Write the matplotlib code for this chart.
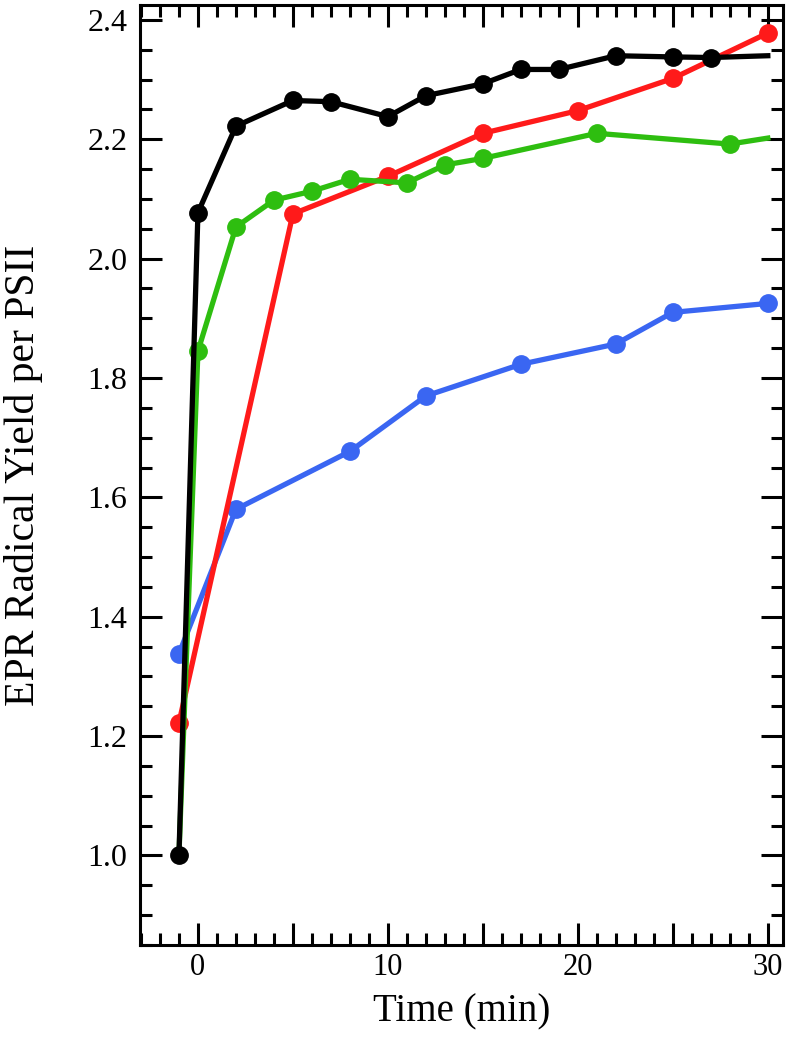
import matplotlib
matplotlib.use('Agg')
import matplotlib.pyplot as plt
from matplotlib.ticker import MultipleLocator

plt.rcParams['font.family'] = ['Liberation Serif', 'DejaVu Serif']

# ── data ────────────────────────────────────────────────────────
black_t = [-1, 0, 2, 5, 7, 10, 12, 15, 17, 19, 22, 25, 27, 30]
black_y = [1.000, 2.077, 2.222, 2.265, 2.263, 2.238, 2.273, 2.293,
           2.317, 2.317, 2.340, 2.338, 2.337, 2.340]

red_t = [-1, 5, 10, 15, 20, 25, 30]
red_y = [1.222, 2.075, 2.138, 2.210, 2.248, 2.302, 2.378]

green_t = [-1, 0, 2, 4, 6, 8, 11, 13, 15, 21, 28, 30]
green_y = [1.000, 1.845, 2.053, 2.098, 2.113, 2.133, 2.127, 2.157,
           2.168, 2.210, 2.192, 2.202]

blue_t = [-1, 2, 8, 12, 17, 22, 25, 30]
blue_y = [1.338, 1.580, 1.677, 1.770, 1.823, 1.857, 1.910, 1.925]

RED = '#FF1A1A'
GREEN = '#2EBE10'
BLUE = '#3A66F2'

fig = plt.figure(figsize=(7.9, 10.39), dpi=100)
ax = fig.add_axes([140 / 790, 1 - 945 / 1039, 643 / 790, 940 / 1039])

lw = 3.8
ms = 12.5
ax.plot(blue_t, blue_y, '-o', color=BLUE, lw=lw, ms=ms, zorder=2)
ax.plot(red_t, red_y, '-o', color=RED, lw=lw, ms=ms, zorder=3)
ax.plot(green_t, green_y, '-o', color=GREEN, lw=lw, ms=ms, zorder=4,
        markevery=list(range(1, len(green_t) - 1)))
ax.plot(black_t, black_y, '-o', color='black', lw=lw, ms=ms, zorder=5,
        markevery=list(range(len(black_t) - 1)))

ax.set_xlim(-3.05, 30.8)
ax.set_ylim(0.85, 2.425)

ax.xaxis.set_major_locator(MultipleLocator(5))
ax.xaxis.set_minor_locator(MultipleLocator(1))
ax.yaxis.set_major_locator(MultipleLocator(0.2))
ax.yaxis.set_minor_locator(MultipleLocator(0.05))
ax.set_xticks([0, 5, 10, 15, 20, 25, 30])
ax.set_xticklabels(['0', '', '10', '', '20', '', '30'])
ax.yaxis.set_major_formatter(plt.FuncFormatter(lambda v, p: f'{v:.1f}'))

ax.tick_params(which='both', direction='in', top=True, right=True, width=2.2)
ax.tick_params(which='major', length=16)
ax.tick_params(which='minor', length=8.5)
ax.tick_params(axis='y', labelsize=23, pad=9)
ax.tick_params(axis='x', labelsize=22, pad=6)
for s in ax.spines.values():
    s.set_linewidth(2.2)

ax.set_xlabel('Time (min)', fontsize=28, labelpad=8)
ax.set_ylabel('EPR Radical Yield per PSII', fontsize=30, labelpad=32)

fig.savefig('out.png', dpi=100)
